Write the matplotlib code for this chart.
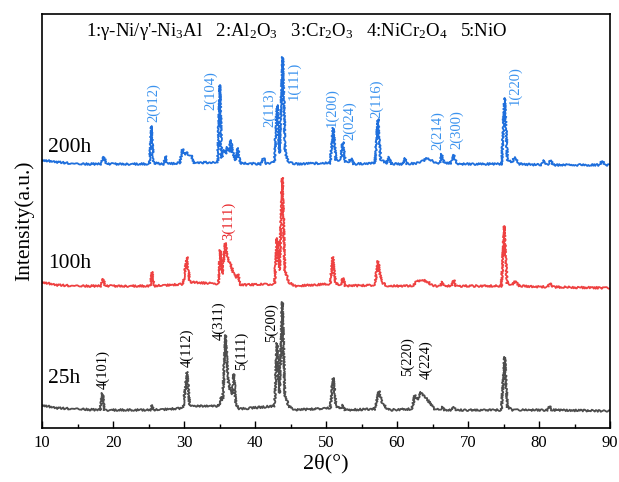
import matplotlib
matplotlib.use("Agg")
import matplotlib.pyplot as plt
from matplotlib.ticker import MultipleLocator

# 2theta (deg) and relative intensity (a.u.)
tth_200 = [10.0, 12.0, 15.0, 18.3, 18.7, 19.1, 25.15, 25.4, 25.7, 27.15, 27.4, 27.7,
           29.4, 29.8, 30.1, 30.4, 30.7, 31.0, 31.4, 34.75, 35.05, 35.3, 35.6, 35.85,
           36.1, 36.35, 36.6, 36.8, 37.0, 37.3, 37.6, 37.9, 40.8, 41.2, 41.6, 42.75,
           43.1, 43.45, 43.9, 44.25, 44.7, 45.6, 50.6, 51.0, 51.4, 52.05, 52.35, 52.7,
           53.2, 53.5, 53.9, 56.9, 57.3, 57.7, 58.6, 58.9, 59.2, 60.8, 61.1, 61.4,
           63.2, 64.3, 65.4, 66.0, 66.3, 66.6, 67.6, 68.0, 68.4, 74.75, 75.15, 75.55,
           76.2, 76.6, 77.1, 80.3, 80.6, 80.9, 81.3, 81.6, 82.0, 88.5, 88.9, 89.3, 90.0]
int_200 = [22, 20, 18, 18, 25, 18, 18, 56, 19, 18, 26, 18,
           19, 33, 27, 30, 26, 27, 19, 20, 97, 24, 32, 28,
           35, 30, 42, 30, 27, 22, 34, 19, 18, 24, 18, 20,
           77, 29, 125, 30, 20, 18, 19, 54, 22, 22, 40, 20,
           20, 24, 18, 19, 63, 22, 19, 25, 18, 18, 24, 18,
           19, 24, 19, 19, 28, 19, 19, 27, 18, 18, 84, 22,
           20, 25, 18, 17, 22, 18, 18, 22, 17, 17, 21, 17, 17]

tth_100 = [10.0, 12.0, 15.0, 18.3, 18.6, 18.9, 25.25, 25.5, 25.75, 29.9, 30.4, 30.8,
           34.85, 35.1, 35.4, 35.8, 36.2, 36.6, 37.0, 37.3, 37.6, 37.9, 42.75, 43.1,
           43.45, 43.85, 44.2, 44.7, 45.6, 50.6, 50.95, 51.35, 52.1, 52.4, 52.7, 56.9,
           57.3, 57.8, 58.6, 62.2, 62.8, 63.6, 64.4, 65.0, 66.1, 66.4, 66.7, 67.7,
           68.0, 68.3, 74.7, 75.1, 75.5, 76.2, 76.7, 77.2, 81.2, 81.5, 81.8, 90.0]
int_100 = [22, 19, 18, 18, 25, 18, 18, 32, 18, 20, 47, 22,
           20, 54, 30, 61, 45, 39, 30, 26, 30, 19, 20, 66,
           34, 126, 34, 22, 18, 20, 47, 21, 19, 26, 18, 19,
           43, 22, 18, 18, 23, 24, 22, 18, 18, 22, 18, 18,
           24, 18, 18, 78, 21, 19, 23, 18, 17, 21, 17, 16]

tth_25 = [10.0, 12.0, 15.0, 18.2, 18.5, 18.8, 25.3, 25.5, 25.7, 29.9, 30.4, 30.8,
          34.9, 35.2, 35.45, 35.85, 36.2, 36.5, 36.8, 37.0, 37.3, 37.8, 42.75, 43.1,
          43.45, 43.85, 44.2, 44.7, 45.6, 50.6, 51.0, 51.4, 52.1, 52.4, 52.7, 56.9,
          57.45, 58.0, 58.8, 62.1, 62.5, 62.85, 63.3, 64.3, 65.3, 66.1, 66.4, 66.7,
          67.7, 68.0, 68.3, 74.7, 75.15, 75.55, 76.3, 81.2, 81.5, 81.8, 90.0]
int_25 = [23, 20, 19, 18, 35, 18, 18, 23, 18, 20, 56, 22,
          22, 31, 28, 93, 48, 38, 34, 54, 24, 19, 22, 85,
          35, 126, 34, 22, 18, 20, 50, 22, 19, 23, 18, 19,
          37, 24, 18, 19, 33, 28, 36, 28, 19, 18, 21, 18,
          18, 21, 18, 18, 71, 21, 18, 18, 22, 18, 17]

samples = ["25h", "100h", "200h"]

# peak indexing: (label, 2theta, height above axis bottom)
labels_200 = [("2(012)", 25.77, 306), ("2(104)", 33.78, 318), ("2(113)", 42.0, 301),
              ("1(111)", 45.54, 328), ("1(200)", 50.9, 301), ("2(024)", 53.3, 288),
              ("2(116)", 57.1, 310), ("2(214)", 65.7, 278), ("2(300)", 68.4, 279),
              ("1(220)", 76.6, 323)]
labels_100 = [("3(111)", 36.2, 188)]
labels_25 = [("4(101)", 18.57, 39), ("4(112)", 30.43, 61), ("4(311)", 34.95, 88),
             ("5(111)", 38.0, 58), ("5(200)", 42.25, 86), ("5(220)", 61.5, 52),
             ("4(224)", 64.1, 49)]

plt.rcParams["font.family"] = ["Liberation Serif", "DejaVu Serif"]
plt.rcParams["mathtext.fontset"] = "custom"
plt.rcParams["mathtext.rm"] = "Liberation Serif"
plt.rcParams["mathtext.it"] = "Liberation Serif:italic"

fig = plt.figure(figsize=(6.19, 4.82), dpi=100)
ax = fig.add_axes([0.0679, 0.112, 0.9176, 0.859])

traces = [
    (tth_25, int_25, 0, "#4d4d4d", "black", labels_25, 50),
    (tth_100, int_100, 124, "#ee4141", "#e8262a", labels_100, 165),
    (tth_200, int_200, 246, "#1f6fdc", "#3a92ee", labels_200, 280),
]
for (x, y, off, col, lcol, labs, ty), name in zip(traces, samples):
    line, = ax.plot(x, [v + off for v in y], color=col, lw=1.3)
    line.set_sketch_params(1.0, 2.0, 2.0)
    for txt, lx, ly in labs:
        ax.text(lx, ly, txt, rotation=90, ha="center", va="bottom",
                color=lcol, fontsize=10.5)
    ax.text(10.85, ty, name, ha="left", va="center", fontsize=15.5)

ax.text(45.9, 396, "1:γ-Ni/γ'-Ni$_3$Al   2:Al$_2$O$_3$   3:Cr$_2$O$_3$   "
        "4:NiCr$_2$O$_4$   5:NiO", ha="center", va="center", fontsize=13.5)

ax.set_xlim(10, 90)
ax.set_ylim(0, 414)
ax.xaxis.set_major_locator(MultipleLocator(10))
ax.xaxis.set_minor_locator(MultipleLocator(5))
ax.tick_params(axis="x", which="major", direction="in", length=5, width=1,
               labelsize=12, pad=5)
ax.tick_params(axis="x", which="minor", direction="in", length=3, width=1)
ax.set_yticks([])
for sp in ax.spines.values():
    sp.set_linewidth(1.2)

ax.set_xlabel("2θ(°)", fontsize=16, labelpad=2)
ax.set_ylabel("Intensity(a.u.)", fontsize=15.5, labelpad=6)

fig.savefig("out.png", dpi=100)
